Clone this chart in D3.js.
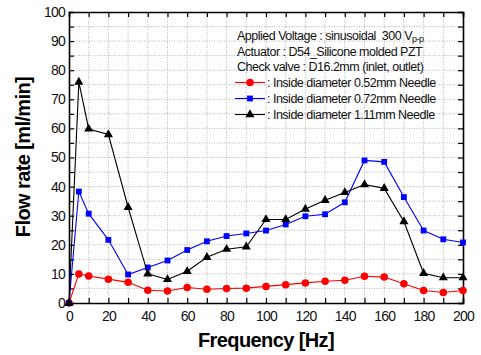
<!DOCTYPE html>
<html>
<head>
<meta charset="utf-8">
<script src="https://cdn.jsdelivr.net/npm/d3@7"></script>
<style>
  body { margin: 0; background: #fff; }
  text { font-family: "Liberation Sans", Arial, sans-serif; }
</style>
</head>
<body>
<div id="chart"></div>
<script>
// Frequency [Hz] sample points
const freq = [0, 5, 10, 20, 30, 40, 50, 60, 70, 80, 90, 100, 110, 120, 130, 140, 150, 160, 170, 180, 190, 200];

// Flow rate [ml/min] for each needle
const needle052 = [0, 10, 9.3, 8.2, 7.1, 4.4, 4.1, 5.3, 4.7, 5.0, 5.1, 5.7, 6.3, 6.9, 7.5, 7.8, 9.2, 8.9, 6.6, 4.3, 3.6, 4.3];
const needle072 = [0, 38.3, 30.7, 21.7, 9.8, 12.2, 14.6, 18.2, 21.2, 23.0, 23.9, 24.9, 27.0, 29.8, 30.5, 34.6, 49.0, 48.5, 36.4, 24.9, 21.9, 20.8];
const needle111 = [0, 75.9, 59.8, 57.9, 32.9, 10.0, 8.1, 10.9, 15.7, 18.5, 19.3, 28.7, 28.7, 32.3, 35.3, 38.0, 40.7, 39.4, 28.0, 10.2, 8.7, 8.7];

const xTicks = [0, 20, 40, 60, 80, 100, 120, 140, 160, 180, 200];
const yTicks = [0, 10, 20, 30, 40, 50, 60, 70, 80, 90, 100];

const infoLines = [
    "Applied Voltage : sinusoidal  300 V",
    "Actuator : D54_Silicone molded PZT",
    "Check valve : D16.2mm (inlet, outlet)"
];
const legendLabels = [
    ": Inside diameter 0.52mm Needle",
    ": Inside diameter 0.72mm Needle",
    ": Inside diameter 1.11mm Needle"
];

const W = 481, H = 355;
const margin = { top: 12, right: 18, bottom: 52, left: 69 };
const width = W - margin.left - margin.right;
const height = H - margin.top - margin.bottom;

const svg = d3.select("#chart")
    .append("svg")
    .attr("width", W)
    .attr("height", H);

const g = svg.append("g")
    .attr("transform", `translate(${margin.left},${margin.top})`);

const x = d3.scaleLinear().domain([0, 200]).range([0, width]);
const y = d3.scaleLinear().domain([0, 100]).range([height, 0]);

// Grid (dotted)
const grid = g.append("g");
grid.selectAll("line.v")
    .data(d3.range(10, 200, 10))
    .enter().append("line")
    .attr("x1", d => x(d)).attr("x2", d => x(d))
    .attr("y1", 0).attr("y2", height)
    .attr("stroke", "#b4b4b4")
    .attr("stroke-width", 1)
    .attr("stroke-dasharray", "1,1.5");
grid.selectAll("line.h")
    .data(d3.range(5, 100, 5))
    .enter().append("line")
    .attr("y1", d => y(d)).attr("y2", d => y(d))
    .attr("x1", 0).attr("x2", width)
    .attr("stroke", "#b4b4b4")
    .attr("stroke-width", 1)
    .attr("stroke-dasharray", "1,1.5");

// Axes with inward ticks
const xMinor = d3.range(0, 201, 10);
const yMinor = d3.range(0, 101, 5);

const xAxis = g.append("g")
    .attr("transform", `translate(0,${height})`)
    .call(d3.axisBottom(x).tickValues(xMinor).tickSize(-5).tickPadding(8)
        .tickFormat(d => xTicks.includes(d) ? d : ""));
const xTop = g.append("g")
    .call(d3.axisTop(x).tickValues(xMinor).tickSize(-5).tickFormat(""));
const yAxis = g.append("g")
    .call(d3.axisLeft(y).tickValues(yMinor).tickSize(-5).tickPadding(4)
        .tickFormat(d => yTicks.includes(d) ? d : ""));
const yRight = g.append("g")
    .attr("transform", `translate(${width},0)`)
    .call(d3.axisRight(y).tickValues(yMinor).tickSize(-5).tickFormat(""));

[xAxis, xTop, yAxis, yRight].forEach(a => {
    a.select(".domain").attr("stroke", "#000").attr("stroke-width", 1.6);
    a.selectAll(".tick line").attr("stroke", "#000").attr("stroke-width", 1.2);
    a.selectAll(".tick text")
        .attr("fill", "#111")
        .style("font-size", "14px")
        .style("letter-spacing", "-0.8px");
});

// Series
const series = [
    { values: needle052, color: "#ff0000", shape: d3.symbolCircle, size: 44 },
    { values: needle072, color: "#0000ff", shape: d3.symbolSquare, size: 34 },
    { values: needle111, color: "#000000", shape: d3.symbolTriangle, size: 36 }
];

const line = d3.line()
    .x((d, i) => x(freq[i]))
    .y(d => y(d));

series.forEach(s => {
    g.append("path")
        .datum(s.values)
        .attr("fill", "none")
        .attr("stroke", s.color)
        .attr("stroke-width", 1.1)
        .attr("d", line);
    g.append("g")
        .selectAll("path")
        .data(s.values)
        .enter().append("path")
        .attr("transform", (d, i) => `translate(${x(freq[i])},${y(d)})`)
        .attr("d", d3.symbol().type(s.shape).size(s.size))
        .attr("fill", s.color);
});

// Info text + legend
const info = svg.append("g");
infoLines.forEach((t, i) => {
    const tx = info.append("text")
        .attr("x", 237)
        .attr("y", 40 + i * 15.5)
        .style("font-size", "12.5px")
        .style("letter-spacing", "-0.5px")
        .style("white-space", "pre")
        .attr("fill", "#111")
        .text(t);
    if (i === 0) {
        tx.append("tspan")
            .attr("dy", 2)
            .style("font-size", "9px")
            .text("p-p");
    }
});

series.forEach((s, i) => {
    const ly = 82.5 + i * 16;
    info.append("line")
        .attr("x1", 235).attr("x2", 265)
        .attr("y1", ly).attr("y2", ly)
        .attr("stroke", s.color)
        .attr("stroke-width", 1.1);
    info.append("path")
        .attr("transform", `translate(250,${ly})`)
        .attr("d", d3.symbol().type(s.shape).size(s.size))
        .attr("fill", s.color);
    info.append("text")
        .attr("x", 267)
        .attr("y", ly + 4.5)
        .style("font-size", "12.5px")
        .style("letter-spacing", "-0.5px")
        .attr("fill", "#111")
        .text(legendLabels[i]);
});

// Axis titles
svg.append("text")
    .attr("x", 266)
    .attr("y", 347)
    .attr("text-anchor", "middle")
    .style("font-size", "20px")
    .style("font-weight", "bold")
    .style("letter-spacing", "-0.6px")
    .text("Frequency [Hz]");

svg.append("text")
    .attr("transform", "rotate(-90)")
    .attr("x", -157)
    .attr("y", 30)
    .attr("text-anchor", "middle")
    .style("font-size", "20px")
    .style("font-weight", "bold")
    .style("letter-spacing", "-0.6px")
    .text("Flow rate [ml/min]");
</script>
</body>
</html>
